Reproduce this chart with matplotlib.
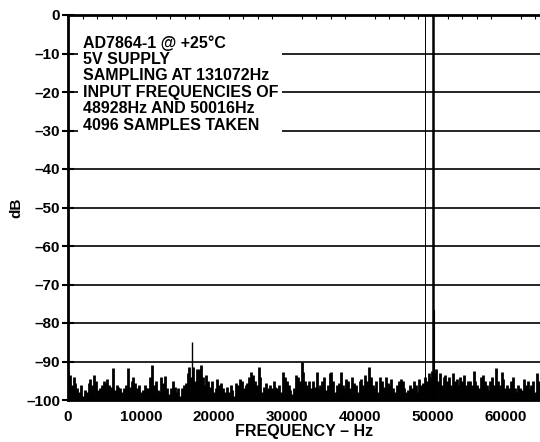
import numpy as np
import matplotlib
matplotlib.use('Agg')
import matplotlib.pyplot as plt
from matplotlib.ticker import MultipleLocator

plt.rcParams['font.family'] = 'Liberation Sans'
plt.rcParams['font.weight'] = 'bold'
plt.rcParams['font.size'] = 11

# noise floor, one value per 256 Hz bin
noise_db = [
    -92.5, -93.5, -96, -94, -95.5, -97, -98, -96, -99, -97.5, -98, -95.5, -94.5, -96, -93.5,
    -95, -97.5, -97, -96, -95, -95.5, -94.5, -96, -96.5, -91.8, -97.5, -96, -96.5, -97, -98,
    -97, -96, -91.8, -96.5, -95, -94, -95.5, -97, -96, -98, -97.5, -96, -97,
    -97, -94, -91, -96, -95, -97.5, -98, -94, -95.5, -93.8, -97, -98.5, -97, -95, -96.5,
    -98, -97, -99, -97, -96, -95.5, -93, -91.3, -94, -91.3, -95, -92, -92, -91, -94,
    -96, -93.5, -95, -96.5, -95, -98, -97, -94.5, -96, -95.5, -97, -98, -96.5,
    -98, -96, -97.5, -99, -95.5, -96, -94.5, -95, -97, -96, -95.5, -94, -92.7, -93.5, -95,
    -96, -91.3, -94, -98, -96.5, -95.5, -97, -96, -97, -95, -96.5, -97, -96, -98, -92.7,
    -94, -95, -96, -97.5, -98.5, -97, -93.5, -94, -95, -90, -92.7, -95, -96,
    -95, -97, -95, -96.5, -92.7, -97, -96, -95, -94, -97.5, -96, -93, -92.7, -95, -98,
    -96, -95.5, -92.7, -96, -97, -94.5, -95, -97, -94, -95.5, -96, -98, -95, -94.5, -96,
    -93.5, -95, -91.5, -94, -96, -97, -95, -98, -94, -95, -96.5, -94, -95.5,
    -96, -94.5, -97, -98, -96, -95, -94.5, -95, -97, -98, -97.5, -96, -97, -95, -96,
    -98, -94.5, -96, -95.5, -94, -95, -93, -94, -92.5, -93, -92, -95, -93, -96, -94,
    -93.5, -95, -94, -96, -93, -95, -94.5, -96, -94, -95, -93.5, -96, -95,
    -95, -96, -92.5, -95, -96, -97, -94, -93.5, -95, -96, -97.5, -95, -94, -96, -91.8,
    -95, -96, -92.7, -94.5, -97, -96, -97, -95, -94, -97, -98, -96, -97, -97.5, -94.5,
    -96, -95, -97, -96, -95, -98, -93, -95, -96, -97, -95.5, -94, -96,
]
bin_hz = 256
noise_hz = np.arange(len(noise_db)) * bin_hz

# tones and spurs
spike_hz = [17024, 48928, 50016, 50080]
spike_db = [-85, 0, 0, -76.5]

y_ticks = list(range(-100, 1, 10))

info = ("AD7864-1 @ +25\u00b0C\n5V SUPPLY\nSAMPLING AT 131072Hz\n"
        "INPUT FREQUENCIES OF\n48928Hz AND 50016Hz\n4096 SAMPLES TAKEN")

fig = plt.figure(figsize=(5.4, 4.42), dpi=100)
ax = fig.add_axes([68/540, 42/442, 472/540, 385/442])

ax.vlines(noise_hz, -100, noise_db, color='black', linewidth=2.0, zorder=2)
ax.vlines(spike_hz[0], -100, spike_db[0], color='black', linewidth=1.0, zorder=2)
ax.vlines(spike_hz[1], -100, spike_db[1], color='black', linewidth=0.7, zorder=2)
ax.vlines(spike_hz[2], -100, spike_db[2], color='black', linewidth=1.8, zorder=2)
ax.vlines(spike_hz[3], -100, spike_db[3], color='black', linewidth=1.5, zorder=2)

ax.set_yticks(y_ticks)
ax.set_yticklabels([str(v).replace('-', '\u2013') for v in y_ticks])
ax.xaxis.set_major_locator(MultipleLocator(10000))
ax.xaxis.set_minor_locator(MultipleLocator(2000))
ax.set_xlim(0, 64660)
ax.set_ylim(-100, 0)
ax.grid(axis='y', color='black', linewidth=1.2, zorder=1)

for s in ['left', 'top', 'bottom']:
    ax.spines[s].set_linewidth(2)
ax.spines['right'].set_visible(False)

ax.tick_params(axis='y', direction='inout', length=9, width=1.5, labelsize=11, pad=1)
ax.tick_params(axis='x', which='major', length=0, labelsize=11, pad=7)
ax.tick_params(axis='x', which='minor', bottom=False, top=True, direction='in', length=3, width=0.8)

ax.text(0.031, 0.948, info, transform=ax.transAxes, ha='left', va='top',
        fontsize=11.5, fontweight='bold', linespacing=1.12, zorder=3,
        bbox=dict(facecolor='white', edgecolor='none', pad=3))

ax.set_xlabel('FREQUENCY \u2013 Hz', fontsize=11.5, fontweight='bold', labelpad=0)
ax.set_ylabel('dB', fontsize=11, fontweight='bold', labelpad=2)

fig.savefig('out.png', dpi=100)
